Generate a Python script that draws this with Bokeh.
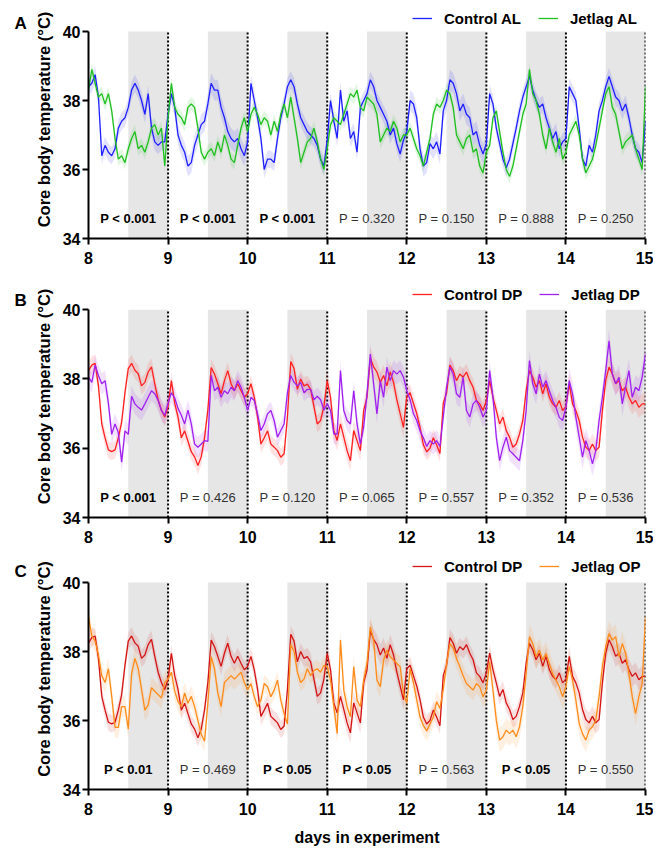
import numpy as np
from bokeh.plotting import figure
from bokeh.layouts import column, row
from bokeh.models import Range1d, FixedTicker, Legend, LegendItem, ColumnDataSource
from bokeh.embed import file_html
from bokeh.resources import INLINE
from bokeh.core.properties import value

FONT = "Liberation Sans"

# ---------------- data ----------------
days = [8, 9, 10, 11, 12, 13, 14, 15]
y_ticks = [34, 36, 38, 40]
dark_start = [8.5, 9.5, 10.5, 11.5, 12.5, 13.5, 14.5]
dark_end = [9, 10, 11, 12, 13, 14, 15]
day_lines = [9, 10, 11, 12, 13, 14, 15]
samples_per_day = 24  # hourly means, starting at day 8

control_AL = [
    38.4, 38.5, 38.75, 38.1, 36.4, 36.7, 36.5, 36.4, 36.6, 37.2, 37.4, 37.5, 37.8, 38.3, 38.5, 38.3, 38.0, 37.6, 38.2, 37.2, 36.8, 36.7, 36.8, 36.8,
    37.6, 38.2, 37.8, 37.0, 36.7, 36.5, 36.1, 36.2, 36.7, 37.0, 37.3, 37.4, 37.9, 38.5, 38.3, 38.3, 37.8, 37.5, 37.1, 36.9, 36.8, 36.9, 36.6, 36.4,
    36.8, 38.5, 38.0, 37.5, 36.9, 36.0, 36.3, 36.3, 36.2, 36.9, 37.5, 37.9, 38.4, 38.6, 38.4, 37.9, 37.5, 37.3, 37.1, 37.0, 36.9, 36.7, 36.3, 36.1,
    36.85, 38.0, 37.4, 36.9, 38.3, 37.4, 37.7, 36.9, 37.1, 36.5, 37.8, 38.0, 38.2, 38.6, 38.4, 38.0, 37.8, 37.6, 37.4, 37.0, 37.2, 36.75, 36.45, 36.85,
    37.1, 38.0, 37.9, 37.5, 36.6, 36.1, 36.2, 36.75, 36.6, 36.8, 36.45, 37.7, 38.0, 38.6, 38.5, 38.2, 37.7, 37.9, 37.6, 37.5, 37.0, 37.1, 36.7, 36.45,
    36.75, 38.2, 37.9, 37.2, 36.75, 36.3, 36.05, 36.3, 36.75, 37.2, 37.7, 38.1, 38.4, 38.7, 38.3, 38.0, 37.8, 37.9, 37.5, 37.2, 36.9, 37.1, 36.6, 36.8,
    36.9, 38.4, 38.2, 38.0, 37.2, 36.3, 36.1, 36.7, 36.5, 37.0, 37.7, 38.0, 38.4, 38.7, 38.4, 38.1, 38.0, 37.7, 37.9, 37.5, 37.0, 36.6, 36.5, 36.2,
    37.4,
]
jetlag_AL = [
    38.3, 38.9, 38.5, 38.1, 38.2, 37.9, 38.2, 37.7, 36.9, 36.3, 36.4, 36.2, 36.6, 36.9, 37.1, 36.6, 36.7, 36.5, 36.8, 37.2, 37.3, 37.0, 37.2, 36.1,
    37.5, 38.5, 37.8, 37.6, 37.5, 37.3, 37.8, 37.9, 37.8, 37.2, 36.5, 36.3, 36.5, 36.6, 36.4, 36.8, 36.5, 37.0, 36.7, 36.3, 36.2, 36.7, 37.2, 37.5,
    37.1, 37.6, 37.8, 37.6, 37.3, 37.5, 37.4, 37.0, 37.4, 37.1, 37.6, 37.9, 37.5, 38.1, 37.5, 36.9, 36.2, 36.5, 36.8, 36.9, 37.2, 36.8, 36.3, 36.0,
    36.6, 37.3, 37.5, 37.4, 37.3, 37.6, 37.9, 38.2, 38.1, 38.3, 37.8, 37.7, 38.1, 38.0, 37.9, 37.6, 36.8, 37.0, 37.2, 37.1, 37.4, 37.2, 36.8, 37.0,
    37.0, 37.2, 36.9, 36.6, 36.4, 36.1, 36.5, 36.9, 37.6, 37.9, 37.8, 38.0, 38.3, 38.2, 37.8, 37.0, 36.8, 36.6, 36.9, 37.0, 36.5, 36.6, 36.1, 35.9,
    36.5, 36.7, 37.5, 37.7, 37.1, 36.5, 36.0, 35.8, 36.1, 36.6, 37.1, 37.6, 37.9, 38.9, 38.2, 38.0, 37.6, 37.0, 36.6, 37.2, 36.8, 36.5, 36.9, 36.3,
    36.5, 37.0, 37.2, 37.4, 37.0, 36.3, 35.9, 36.1, 36.3, 36.7, 37.2, 37.7, 38.2, 38.4, 37.8, 37.6, 37.1, 36.6, 36.8, 36.9, 37.0, 36.6, 36.3, 36.0,
    38.4,
]
control_DP = [
    38.24, 38.4, 38.45, 37.8, 36.7, 36.3, 35.95, 35.9, 35.95, 36.3, 36.75, 37.6, 38.3, 38.45, 38.25, 38.15, 37.8, 37.9, 38.2, 38.35, 37.85, 37.4, 37.1, 36.9,
    37.2, 37.95, 37.3, 36.9, 36.3, 36.5, 36.2, 35.9, 35.75, 35.5, 35.75, 36.3, 37.1, 38.33, 38.14, 37.86, 37.57, 37.95, 38.24, 37.86, 37.66, 37.86, 37.66, 37.47,
    37.57, 37.86, 37.47, 36.9, 36.12, 36.3, 36.5, 36.12, 36.03, 35.93, 35.74, 35.84, 36.9, 38.5, 38.3, 37.7, 38.0, 37.8, 37.85, 37.7, 37.2, 36.7, 36.8, 37.2,
    37.95, 37.47, 36.51, 36.22, 36.7, 36.32, 35.93, 35.64, 36.51, 36.22, 35.93, 37.09, 37.47, 38.6, 38.35, 38.2, 37.9, 38.1, 37.8, 38.2, 37.9, 37.4, 37.0, 36.6,
    37.5, 37.6, 37.3, 37.0, 36.6, 36.1, 35.9, 36.0, 36.3, 36.1, 35.85, 37.3, 37.6, 38.4, 38.24, 37.95, 38.14, 38.05, 38.2, 37.95, 37.76, 37.38, 37.28, 37.09,
    37.38, 37.95, 37.47, 37.09, 36.7, 36.9, 36.51, 36.32, 36.03, 36.12, 36.41, 36.8, 37.66, 38.24, 38.05, 37.76, 37.95, 37.57, 37.86, 37.47, 37.28, 37.18, 37.38, 37.09,
    37.2, 37.86, 37.28, 37.09, 36.8, 36.32, 36.03, 35.93, 36.12, 35.93, 36.03, 37.09, 37.95, 38.34, 38.14, 37.86, 37.95, 37.66, 37.76, 37.47, 37.28, 37.38, 37.18, 37.28,
    37.28,
]
jetlag_DP = [
    38.05, 37.9, 38.4, 38.1, 37.86, 37.95, 37.3, 36.4, 36.7, 36.45, 35.6, 36.5, 36.4, 37.5, 37.28, 37.18, 37.1, 37.28, 37.47, 37.66, 37.57, 37.38, 37.09, 36.95,
    37.3, 37.6, 37.45, 37.15, 36.95, 36.7, 37.1, 36.7, 36.12, 36.03, 36.12, 36.22, 36.2, 38.1, 37.66, 37.76, 37.47, 37.66, 37.57, 37.76, 37.66, 37.95, 37.76, 37.47,
    37.09, 37.47, 37.38, 36.99, 36.51, 36.7, 36.99, 37.09, 36.8, 36.32, 36.51, 36.7, 37.6, 38.1, 37.9, 37.8, 37.9, 37.6, 37.7, 37.7, 37.4, 37.5, 37.4, 37.1,
    37.28, 37.09, 36.41, 36.41, 38.24, 37.09, 36.8, 36.7, 37.66, 36.7, 36.12, 36.61, 37.57, 38.72, 37.86, 36.99, 37.95, 37.47, 38.34, 37.95, 38.24, 38.14, 38.24, 38.05,
    37.66, 37.4, 37.0, 36.8, 36.5, 36.3, 36.05, 36.22, 36.12, 36.22, 36.05, 36.9, 37.76, 38.34, 38.14, 37.57, 37.47, 38.05, 37.09, 36.9, 37.28, 37.38, 37.18, 36.9,
    37.09, 38.24, 37.47, 36.32, 35.64, 36.03, 36.32, 35.93, 35.84, 35.74, 35.64, 36.22, 37.09, 38.53, 37.86, 37.57, 38.14, 37.76, 37.95, 37.66, 37.38, 37.18, 36.89, 36.8,
    37.18, 37.95, 37.57, 36.89, 36.32, 35.74, 36.22, 35.93, 35.55, 35.93, 36.8, 37.47, 38.24, 39.1, 38.14, 37.86, 38.05, 37.28, 37.76, 38.24, 37.47, 37.76, 37.66, 38.05,
    38.72,
]
jetlag_OP = [
    39.0, 38.45, 38.3, 37.9, 37.3, 37.1, 37.5, 36.7, 35.8, 35.8, 36.4, 36.4, 35.75, 37.36, 37.8, 37.5, 36.9, 36.3, 36.45, 36.95, 36.85, 36.75, 36.65, 37.1,
    37.2, 37.4, 36.85, 36.55, 36.4, 36.8, 36.5, 36.7, 36.4, 36.0, 35.6, 35.4, 36.5, 37.85, 37.5, 36.8, 36.4, 37.1, 37.2, 37.3, 37.2, 37.3, 37.4, 37.1,
    36.9, 37.07, 36.69, 36.4, 36.59, 37.07, 36.98, 36.69, 36.88, 37.17, 36.59, 36.2, 35.9, 38.2, 38.0, 37.4, 37.1, 37.2, 37.5, 37.3, 37.45, 37.5, 37.4, 37.6,
    37.56, 37.17, 36.4, 35.62, 38.33, 36.88, 36.4, 36.11, 37.56, 36.59, 36.4, 37.17, 37.65, 38.71, 38.33, 37.17, 36.98, 37.75, 38.04, 37.85, 37.75, 37.65, 37.56, 36.78,
    36.5, 37.5, 37.1, 36.6, 36.1, 35.85, 35.7, 35.9, 36.1, 36.55, 36.35, 36.9, 37.65, 38.23, 38.1, 37.8, 37.56, 37.3, 37.07, 36.98, 36.88, 37.07, 36.98, 36.69,
    36.88, 37.7, 36.88, 36.01, 35.43, 35.53, 35.72, 35.62, 35.72, 35.53, 35.82, 36.4, 37.36, 38.43, 38.23, 37.85, 38.04, 37.75, 37.94, 37.65, 37.36, 37.17, 36.98, 36.69,
    36.98, 37.56, 37.17, 36.59, 35.91, 35.62, 35.43, 35.72, 35.82, 36.01, 36.69, 37.56, 38.14, 38.52, 38.33, 38.43, 37.85, 38.23, 37.94, 37.36, 36.69, 36.2, 36.69, 37.07,
    39.0,
]

# daily SEM (half-width of the shaded band)
sem_control_AL = [0.25, 0.3, 0.25, 0.25, 0.3, 0.25, 0.25]
sem_jetlag_AL = [0.2, 0.2, 0.2, 0.2, 0.2, 0.2, 0.2]
sem_control_DP = [0.25, 0.25, 0.25, 0.3, 0.25, 0.25, 0.3]
sem_jetlag_DP = [0.3, 0.3, 0.25, 0.3, 0.3, 0.3, 0.35]
sem_jetlag_OP = [0.3, 0.3, 0.25, 0.3, 0.3, 0.35, 0.35]

p_A = ["P < 0.001", "P < 0.001", "P < 0.001", "P = 0.320", "P = 0.150", "P = 0.888", "P = 0.250"]
sig_A = [True, True, True, False, False, False, False]
p_B = ["P < 0.001", "P = 0.426", "P = 0.120", "P = 0.065", "P = 0.557", "P = 0.352", "P = 0.536"]
sig_B = [True, False, False, False, False, False, False]
p_C = ["P < 0.01", "P = 0.469", "P < 0.05", "P < 0.05", "P = 0.563", "P < 0.05", "P = 0.550"]
sig_C = [True, False, True, True, False, True, False]

LETTER_W = 30
PANEL_W = 623
MAIN_H = 207  # pixel height of the 34-40 span


def make_letter(letter, height, cap_bottom):
    f = figure(width=LETTER_W, height=height, x_range=Range1d(0, LETTER_W),
               y_range=Range1d(0, height), output_backend="svg", toolbar_location=None,
               x_axis_type=None, y_axis_type=None, min_border=0)
    f.outline_line_color = None
    f.grid.visible = False
    f.text(x=[14], y=[height - cap_bottom], text=[letter], text_font=value(FONT),
           text_font_size="17px", text_font_style="bold", text_color="black",
           text_align="left", text_baseline="alphabetic")
    return f


def make_panel(series, pvals, sig, height, ext, bottom, legend_gap, xlabel=None):
    # ext: pixels of frame above the 40 degC line (room for the legend)
    y_top = y_ticks[-1] + ext * (y_ticks[-1] - y_ticks[0]) / MAIN_H
    p = figure(width=PANEL_W, height=height, x_range=Range1d(days[0], days[-1]),
               y_range=Range1d(y_ticks[0], y_top),
               output_backend="svg", toolbar_location=None,
               min_border_left=58, min_border_right=8,
               min_border_top=0, min_border_bottom=bottom)
    p.outline_line_color = None
    p.grid.visible = False

    p.quad(left=dark_start, right=dark_end, bottom=y_ticks[0], top=y_ticks[-1],
           fill_color="#e6e6e6", line_color=None)
    p.segment(x0=day_lines, x1=day_lines, y0=y_ticks[0], y1=y_ticks[-1],
              line_color="black", line_width=2, line_dash="2 2")

    items = []
    for name, vals, sem, color in series:
        vals = np.array(vals)
        t = days[0] + np.arange(len(vals)) / samples_per_day
        s = np.append(np.repeat(sem, samples_per_day), sem[-1])[:len(vals)]
        p.varea(x=t, y1=vals - s, y2=vals + s, fill_color=color, fill_alpha=0.13)
    for name, vals, sem, color in series:
        vals = np.array(vals)
        t = days[0] + np.arange(len(vals)) / samples_per_day
        r = p.line(t, vals, line_color=color, line_width=1.3)
        items.append(LegendItem(label=name, renderers=[r]))

    src = ColumnDataSource(dict(x=dark_start, y=[34.58] * len(pvals), text=pvals,
                                style=["bold" if s else "normal" for s in sig],
                                color=["black" if s else "#333333" for s in sig]))
    p.text(x="x", y="y", text="text", source=src, text_font=value(FONT),
           text_font_size="13px", text_font_style="style", text_color="color",
           text_align="center", text_baseline="middle")

    for ax in (p.xaxis[0], p.yaxis[0]):
        ax.axis_line_width = 2
        ax.axis_line_color = "black"
        ax.major_tick_line_width = 2
        ax.major_tick_line_color = "black"
        ax.major_tick_out = 6
        ax.major_tick_in = 0
        ax.minor_tick_line_color = None
        ax.major_label_text_font = FONT
        ax.major_label_text_font_style = "bold"
        ax.major_label_text_font_size = "16px"
        ax.major_label_text_color = "black"
        ax.axis_label_text_font = FONT
        ax.axis_label_text_font_style = "bold"
        ax.axis_label_text_color = "black"
    p.xaxis.ticker = FixedTicker(ticks=days)
    p.yaxis.ticker = FixedTicker(ticks=y_ticks)
    p.yaxis.bounds = (y_ticks[0], y_ticks[-1])
    p.xaxis.major_label_standoff = 7
    p.yaxis.major_label_standoff = 2
    p.yaxis.axis_label = "Core body temperature (°C)"
    p.yaxis.axis_label_text_font_size = "16.5px"
    p.yaxis.axis_label_standoff = 7
    if xlabel:
        p.xaxis.axis_label = xlabel
        p.xaxis.axis_label_standoff = 11
        p.xaxis.axis_label_text_font_size = "16px"

    legend = Legend(items=items, orientation="horizontal",
                    location=(324, MAIN_H + legend_gap),
                    padding=0, margin=0, spacing=17, label_standoff=12,
                    glyph_width=20, glyph_height=18, label_height=18,
                    label_text_font=FONT, label_text_font_style="bold",
                    label_text_font_size="15px", label_text_color="black",
                    border_line_alpha=0, background_fill_alpha=0)
    p.add_layout(legend)
    return p


pA = make_panel([("Control AL", control_AL, sem_control_AL, "#2020ff"),
                 ("Jetlag AL", jetlag_AL, sem_jetlag_AL, "#20c020")],
                p_A, sig_A, height=275, ext=31, bottom=37, legend_gap=4)
pB = make_panel([("Control DP", control_DP, sem_control_DP, "#ff2020"),
                 ("Jetlag DP", jetlag_DP, sem_jetlag_DP, "#a020f0")],
                p_B, sig_B, height=273, ext=34, bottom=31, legend_gap=7)
pC = make_panel([("Control DP", control_DP, sem_control_DP, "#d41414"),
                 ("Jetlag OP", jetlag_OP, sem_jetlag_OP, "#ff8c1a")],
                p_C, sig_C, height=301, ext=34, bottom=60, legend_gap=7,
                xlabel="days in experiment")

lA = make_letter("A", 275, 27)
lB = make_letter("B", 273, 28)
lC = make_letter("C", 301, 29)

layout = column(row(lA, pA, spacing=0), row(lB, pB, spacing=0), row(lC, pC, spacing=0), spacing=0)
open("out.html", "w").write(file_html(layout, INLINE))
